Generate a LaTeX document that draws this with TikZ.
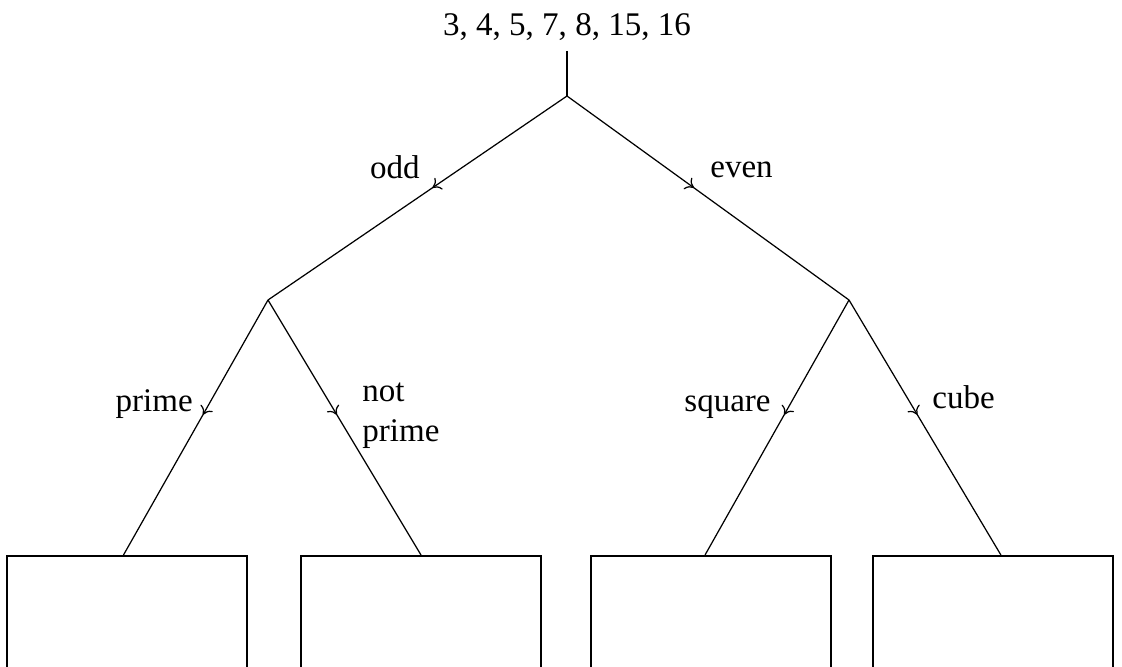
\documentclass[tikz,border=0pt]{standalone}
\usepackage{fontspec}
\setmainfont{Liberation Serif}
\usetikzlibrary{decorations.markings, arrows.meta}

\begin{document}
\begin{tikzpicture}[
			x=0.02cm, y=-0.02cm,
			every node/.style={font=\fontsize{18.8}{22.7}\selectfont, inner sep=0pt},
			%% Line styles
			stemline/.style={line width=0.7pt},
			branch/.style={line width=0.7pt,
				decoration={markings,
					mark=at position 0.45 with {\arrow{To[length=4.5pt,width=8pt]}}},
				postaction={decorate}},
			%% Open boxes at the bottom
			leaf/.style={draw, line width=0.85pt, minimum width=4.8cm,
				minimum height=3cm, anchor=north},
			lbl/.style={anchor=base west},
			]
			
			\clip (0,0) rectangle (1122,666);
			
			%% ── Start set and branch points ─────────────────────────────────
			\node[anchor=base] (set) at (567,35) {3, 4, 5, 7, 8, 15, 16};
			\coordinate (root)   at (567,96);
			\coordinate (oddpt)  at (268,300);
			\coordinate (evenpt) at (849,300);
			
			%% ── Leaf boxes ──────────────────────────────────────────────────
			\node[leaf] (primebox)    at (127,555) {};
			\node[leaf] (notprimebox) at (421,555) {};
			\node[leaf] (squarebox)   at (711,555) {};
			\node[leaf] (cubebox)     at (993,555) {};
			
			%% ── Branches ────────────────────────────────────────────────────
			\draw[stemline, shorten <=6pt] (set) -- (root);
			\draw[branch] (root)   -- (oddpt);
			\draw[branch] (root)   -- (evenpt);
			\draw[branch] (oddpt)  -- ([xshift=-2pt]primebox.north);
			\draw[branch] (oddpt)  -- (notprimebox.north);
			\draw[branch] (evenpt) -- ([xshift=-3.4pt]squarebox.north);
			\draw[branch] (evenpt) -- ([xshift=4.5pt]cubebox.north);
			
			%% ── Branch labels ───────────────────────────────────────────────
			\node[anchor=base east] (oddlbl)    at (420,178) {odd};
			\node[lbl]              (evenlbl)   at (710,177) {even};
			\node[anchor=base east] (primelbl)  at (193,411) {prime};
			\node[lbl, align=left]  (notprimelbl) at (362,441) {not\\prime};
			\node[anchor=base east] (squarelbl) at (771,411) {square};
			\node[lbl]              (cubelbl)   at (932,408) {cube};
			
		\end{tikzpicture}
\end{document}
